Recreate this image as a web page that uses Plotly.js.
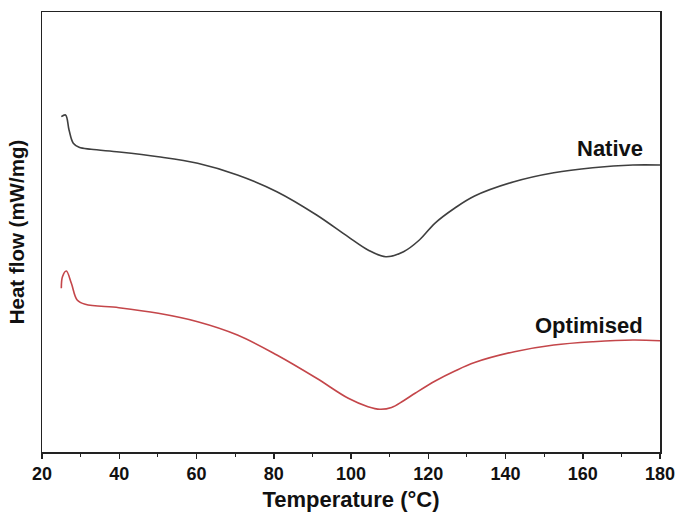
<!DOCTYPE html>
<html>
<head>
<meta charset="utf-8">
<script src="https://cdn.plot.ly/plotly-3.0.1.min.js"></script>
<style>html,body{margin:0;padding:0;background:#fff;}#chart{width:679px;height:525px;}</style>
</head>
<body>
<div id="chart"></div>
<script>
// Temperature (°C) and heat flow (arbitrary offset units, mW/mg)
const nativeT = [25.0, 26.1, 27.0, 28.1, 29.6, 32.7, 40.0, 50.1, 60.3, 70.6, 80.8, 91.1, 99.2, 104.4, 109.0, 113.6, 117.7, 121.7, 126.9, 132.0, 142.2, 152.5, 162.6, 173.0, 180.0];
const nativeHF = [3.353, 3.37, 3.22, 3.087, 3.047, 3.027, 3.0, 2.953, 2.887, 2.77, 2.603, 2.37, 2.153, 2.02, 1.953, 2.003, 2.12, 2.287, 2.44, 2.56, 2.703, 2.793, 2.843, 2.87, 2.87];

const optT = [25.0, 25.3, 26.3, 27.6, 29.1, 31.2, 39.9, 50.1, 60.3, 70.6, 80.8, 91.1, 99.3, 104.4, 107.5, 110.5, 113.5, 116.7, 121.8, 126.9, 132.0, 142.3, 152.5, 162.7, 173.0, 180.0];
const optHF = [1.637, 1.753, 1.81, 1.687, 1.52, 1.477, 1.443, 1.387, 1.303, 1.17, 0.97, 0.737, 0.537, 0.453, 0.427, 0.445, 0.51, 0.59, 0.71, 0.81, 0.895, 1.003, 1.07, 1.103, 1.12, 1.113];

const seriesNames = ["Native", "Optimised"];
const labelT = [176.2, 176.0];
const labelHF = [3.04, 1.27];

const font = "Liberation Sans, Arial, sans-serif";

const traces = [
  {x: nativeT, y: nativeHF, mode: "lines", name: seriesNames[0],
   line: {color: "#3f3f3f", width: 1.6, shape: "spline", smoothing: 1}},
  {x: optT, y: optHF, mode: "lines", name: seriesNames[1],
   line: {color: "#c4464a", width: 1.6, shape: "spline", smoothing: 1}}
];

const annotations = seriesNames.map((n, i) => ({
  x: labelT[i], y: labelHF[i], xref: "x", yref: "y", text: n, showarrow: false,
  xanchor: "right", yanchor: "middle",
  font: {family: font, size: 22, color: "#111", weight: "bold"}
}));

const layout = {
  width: 679, height: 525,
  margin: {l: 42, r: 19, t: 12, b: 73},
  paper_bgcolor: "#fff", plot_bgcolor: "#fff",
  showlegend: false,
  annotations: annotations,
  xaxis: {
    range: [20, 180], dtick: 20, tick0: 20,
    showline: true, mirror: true, linecolor: "#222", linewidth: 1.5,
    ticks: "outside", ticklen: 5, tickwidth: 1.5, tickcolor: "#222",
    minor: {dtick: 10, ticks: "outside", ticklen: 3, tickwidth: 1.2, tickcolor: "#222"},
    showgrid: false, zeroline: false,
    tickfont: {family: font, size: 18, color: "#111", weight: "bold"},
    title: {text: "Temperature (°C)", standoff: 8,
            font: {family: font, size: 22, color: "#111", weight: "bold"}},
    automargin: false
  },
  yaxis: {
    range: [0, 4.4],
    showline: true, mirror: true, linecolor: "#222", linewidth: 1.5,
    ticks: "", showticklabels: false, showgrid: false, zeroline: false,
    title: {text: "Heat flow (mW/mg)", standoff: 10,
            font: {family: font, size: 20.5, color: "#111", weight: "bold"}},
    automargin: false
  }
};

Plotly.newPlot("chart", traces, layout, {displayModeBar: false, staticPlot: true});
</script>
</body>
</html>
